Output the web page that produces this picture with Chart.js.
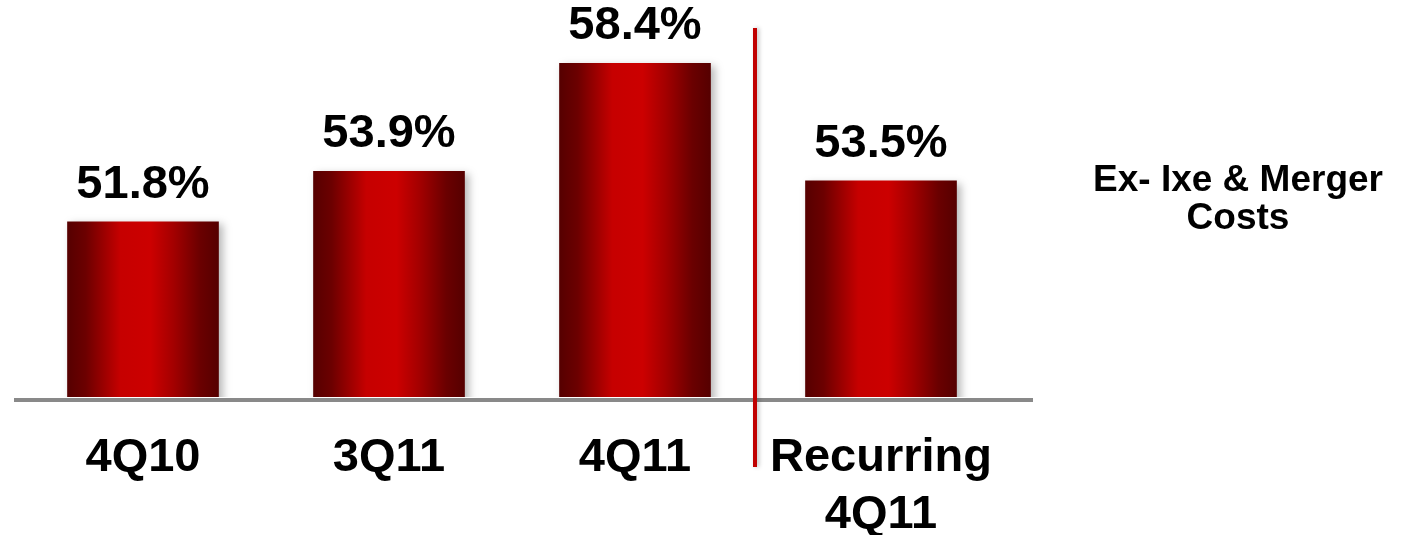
<!DOCTYPE html>
<html>
<head>
<meta charset="utf-8">
<script src="https://cdn.jsdelivr.net/npm/chart.js@4.4.1/dist/chart.umd.min.js"></script>
<style>
    html, body { margin: 0; padding: 0; background: #fff; overflow: hidden; }
    #wrap { position: relative; width: 1404px; height: 535px; }
</style>
</head>
<body>
<div id="wrap"><canvas id="ratioChart"></canvas></div>
<script>
// Efficiency ratio by quarter
const categories = ['4Q10', '3Q11', '4Q11', ['Recurring', '4Q11']];
const ratios = [51.8, 53.9, 58.4, 53.5];
const noteLines = ['Ex- Ixe & Merger', 'Costs'];

const FONT = '"Liberation Sans", Arial, sans-serif';
const BAR_W = 151;

// horizontal shading across each bar, dark at the edges
function barFill(context) {
    const chart = context.chart;
    const xs = chart.scales.x;
    if (!chart.chartArea || !xs) return '#c00000';
    const cx = xs.getPixelForValue(context.dataIndex);
    const g = chart.ctx.createLinearGradient(cx - BAR_W / 2, 0, cx + BAR_W / 2, 0);
    g.addColorStop(0, '#560000');
    g.addColorStop(0.12, '#6c0000');
    g.addColorStop(0.35, '#c60000');
    g.addColorStop(0.55, '#cc0000');
    g.addColorStop(0.7, '#a40000');
    g.addColorStop(0.88, '#6a0000');
    g.addColorStop(1, '#560000');
    return g;
}

const extras = {
    id: 'extras',
    beforeDatasetsDraw(chart) {
        const ctx = chart.ctx;
        ctx.save();
        ctx.shadowColor = 'rgba(0,0,0,0.28)';
        ctx.shadowBlur = 8;
        ctx.shadowOffsetX = 4;
        ctx.shadowOffsetY = 3;
    },
    afterDatasetsDraw(chart) {
        const ctx = chart.ctx;
        ctx.restore();
        const area = chart.chartArea;
        const xs = chart.scales.x;

        // baseline
        ctx.save();
        ctx.fillStyle = '#898989';
        ctx.fillRect(14, area.bottom + 1, 1019, 4);

        // divider before the recurring column
        const dx = xs.getPixelForValue(2.5) - 3;
        ctx.shadowColor = 'rgba(0,0,0,0.25)';
        ctx.shadowBlur = 4;
        ctx.shadowOffsetX = 2;
        ctx.fillStyle = '#c00000';
        ctx.fillRect(dx - 2, 28, 4, 439);
        ctx.restore();

        // value labels
        ctx.save();
        ctx.fillStyle = '#000';
        ctx.font = 'bold 47px ' + FONT;
        ctx.textAlign = 'center';
        ctx.textBaseline = 'alphabetic';
        chart.getDatasetMeta(0).data.forEach((bar, i) => {
            ctx.fillText(ratios[i].toFixed(1) + '%', bar.x, bar.y - 24);
        });

        // side note
        ctx.font = 'bold 37px ' + FONT;
        ctx.textBaseline = 'middle';
        noteLines.forEach((line, i) => {
            ctx.fillText(line, 1238, 181 + i * 38);
        });
        ctx.restore();
    }
};

const chart = new Chart(document.getElementById('ratioChart'), {
    type: 'bar',
    data: {
        labels: categories,
        datasets: [{
            data: ratios,
            backgroundColor: barFill,
            borderWidth: 0,
            barThickness: BAR_W
        }]
    },
    options: {
        responsive: true,
        maintainAspectRatio: false,
        animation: false,
        layout: { padding: { top: 20, left: 20, right: 400, bottom: 0 } },
        plugins: {
            legend: { display: false },
            tooltip: { enabled: false }
        },
        scales: {
            x: {
                grid: { display: false, drawTicks: false },
                border: { display: false },
                ticks: {
                    color: '#000',
                    padding: 33,
                    maxRotation: 0,
                    font: { family: FONT, size: 47, weight: 'bold', lineHeight: 1.2 }
                },
                afterFit(scale) { scale.height = 138; }
            },
            y: {
                display: false,
                min: 44.5,
                max: 60.2
            }
        }
    },
    plugins: [extras]
});
</script>
</body>
</html>
